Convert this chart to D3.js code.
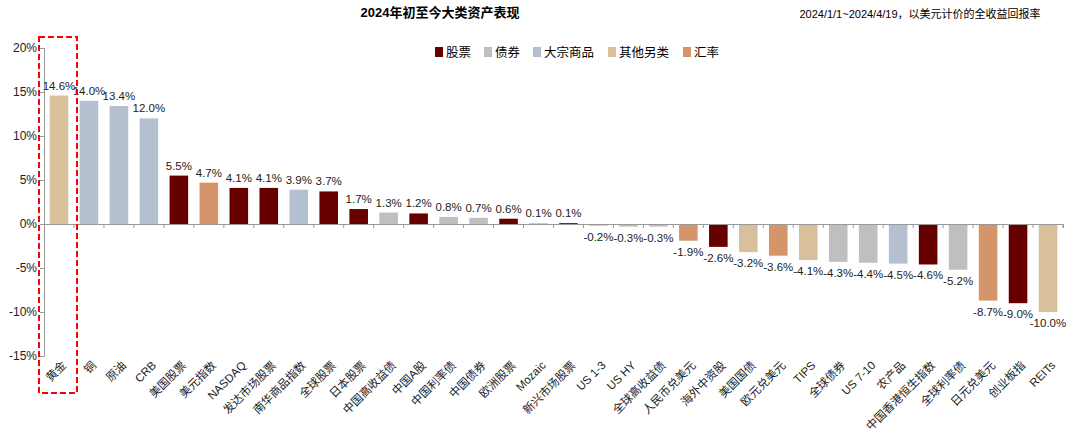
<!DOCTYPE html><html><head><meta charset="utf-8"><script src="https://cdn.jsdelivr.net/npm/d3@7"></script>
<style>body{margin:0;background:#fff}text{font-family:"Liberation Sans","Noto Sans CJK SC",sans-serif}</style></head><body><svg id="c" width="1080" height="440"></svg><script>
const categories=["黄金","铜","原油","CRB","美国股票","美元指数","NASDAQ","发达市场股票","南华商品指数","全球股票","日本股票","中国高收益债","中国A股","中国利率债","中国债券","欧洲股票","Mozaic","新兴市场股票","US 1-3","US HY","全球高收益债","人民币兑美元","海外中资股","美国国债","欧元兑美元","TIPS","全球债券","US 7-10","农产品","中国香港恒生指数","全球利率债","日元兑美元","创业板指","REITs"];
const values=[14.6,14.0,13.4,12.0,5.5,4.7,4.1,4.1,3.9,3.7,1.7,1.3,1.2,0.8,0.7,0.6,0.1,0.1,-0.2,-0.3,-0.3,-1.9,-2.6,-3.2,-3.6,-4.1,-4.3,-4.4,-4.5,-4.6,-5.2,-8.7,-9.0,-10.0];
const groups=["其他另类","大宗商品","大宗商品","大宗商品","股票","汇率","股票","股票","大宗商品","股票","股票","债券","股票","债券","债券","股票","其他另类","股票","债券","债券","债券","汇率","股票","其他另类","汇率","其他另类","债券","债券","大宗商品","股票","债券","汇率","股票","其他另类"];
const legendNames=["股票","债券","大宗商品","其他另类","汇率"];
const legendColors=["#660000","#bfbfbf","#b4c0d0","#d9c09c","#d4956a"];
const yTicks=[20,15,10,5,0,-5,-10,-15];
const svg=d3.select("#c");
const color=d3.scaleOrdinal(legendNames,legendColors);
const x=d3.scaleBand(categories,[44,1063]).paddingInner(0.38).paddingOuter(0.19);
const y=d3.scaleLinear([-15,20],[356,48]);
svg.append("text").attr("x",440).attr("y",17).attr("text-anchor","middle").attr("font-weight","bold").attr("font-size",13).text("2024年初至今大类资产表现");
svg.append("text").attr("x",920).attr("y",18).attr("text-anchor","middle").attr("font-size",11).text("2024/1/1~2024/4/19，以美元计价的全收益回报率");
const ya=svg.append("g").attr("transform","translate(44,0)").call(d3.axisLeft(y).tickValues(yTicks).tickFormat(d=>d+"%").tickSize(4));
ya.select(".domain").attr("stroke","#999");ya.selectAll("line").attr("stroke","#999");ya.selectAll("text").attr("font-size",12).attr("fill","#222");
svg.selectAll("rect.b").data(values).join("rect").attr("x",(d,i)=>x(categories[i])).attr("width",x.bandwidth()).attr("y",d=>y(Math.max(0,d))).attr("height",d=>Math.abs(y(d)-y(0))).attr("fill",(d,i)=>color(groups[i]));
const xa=svg.append("g").attr("transform",`translate(0,${y(0)})`).call(d3.axisBottom(x).tickSize(4).tickFormat(""));
xa.select(".domain").attr("stroke","#999");xa.selectAll("line").attr("stroke","#999").attr("transform",`translate(${x.step()/2},0)`);
svg.selectAll("text.v").data(values).join("text").attr("x",(d,i)=>x(categories[i])+x.bandwidth()/2).attr("y",d=>d>=0?y(d)-6:y(d)+15).attr("text-anchor","middle").attr("font-size",11.5).attr("fill","#222").text(d=>d.toFixed(1)+"%");
svg.selectAll("text.c").data(categories).join("text").attr("font-size",11.5).attr("fill","#222").attr("text-anchor","end").attr("transform",d=>`translate(${x(d)+x.bandwidth()/2+8},366) rotate(-45)`).text(d=>d);
const lg=svg.append("g").attr("transform","translate(435,52)");
let ox=0;legendNames.forEach((n,i)=>{lg.append("rect").attr("x",ox).attr("y",-5).attr("width",8).attr("height",10).attr("fill",legendColors[i]);lg.append("text").attr("x",ox+11).attr("y",5).attr("font-size",12.5).text(n);ox+=11+n.length*13+12;});
svg.append("rect").attr("x",39).attr("y",37).attr("width",38).attr("height",356).attr("fill","none").attr("stroke","#f00").attr("stroke-width",2).attr("stroke-dasharray","6,3");
</script></body></html>
